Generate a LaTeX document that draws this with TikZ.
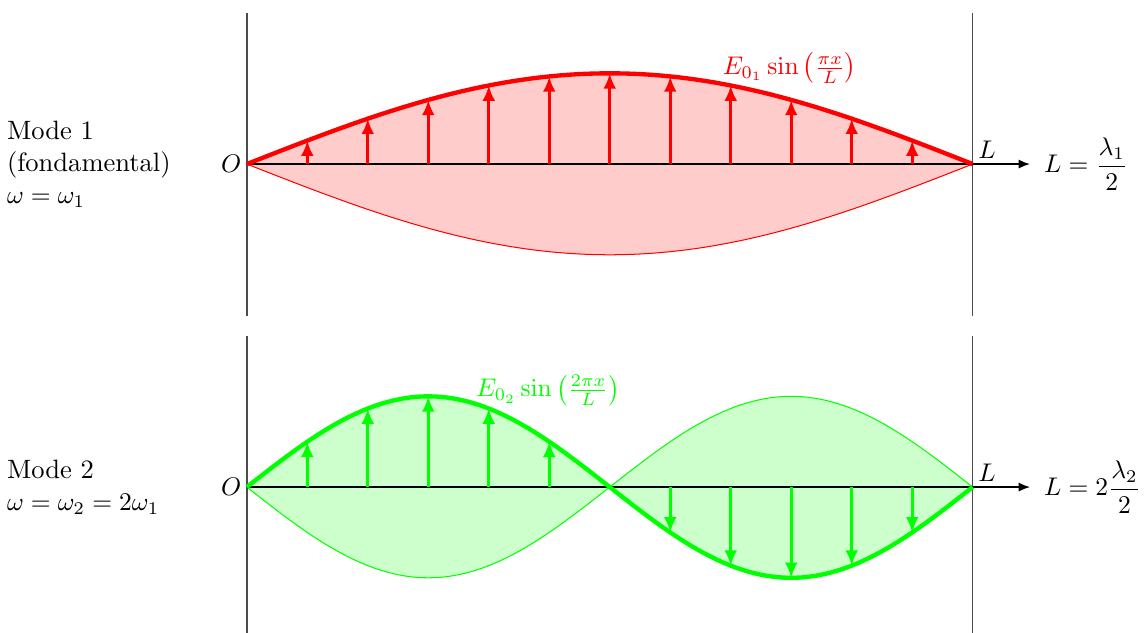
\documentclass[tikz,border=0pt]{standalone}
\usetikzlibrary{arrows.meta}
\begin{document}
\begin{tikzpicture}[
  font=\fontsize{10.4pt}{12.6pt}\selectfont,
  wall/.style={black!70, line width=0.6pt},
  axisline/.style={black, line width=0.6pt, -{Latex[length=4.5pt,width=3.6pt]}},
  vec/.style={line width=1.1pt, -{Latex[length=6pt,width=5pt]}},
  curvethick/.style={line width=1.7pt},
  curvethin/.style={line width=0.4pt}
]
\def\Lw{10}
\def\A{1.25}
\useasboundingbox (-3.40,2.26) rectangle (12.36,-6.46);

% ---------- Mode 1 ----------
\fill[red!20] (0,0) -- plot[domain=0:\Lw,samples=80] (\x,{\A*sin(180*\x/\Lw)})
  -- plot[domain=\Lw:0,samples=80] (\x,{-\A*sin(180*\x/\Lw)}) -- cycle;
\draw[red,curvethin] plot[domain=0:\Lw,samples=80] (\x,{-\A*sin(180*\x/\Lw)});
\draw[wall] (0,2.08) -- (0,-2.09);
\draw[wall] (\Lw,2.08) -- (\Lw,-2.09);
\coordinate (O1) at (0,0);
\coordinate (L1) at (\Lw,0);
\coordinate (E1) at (10.79,0);
\draw[axisline] (O1) -- (E1);
\foreach \k in {1,...,11}{
  \draw[red,vec] (\k*\Lw/12,0) -- (\k*\Lw/12,{\A*sin(15*\k)});
}
\draw[red,curvethick] plot[domain=0:\Lw,samples=80] (\x,{\A*sin(180*\x/\Lw)});
\node[anchor=east,inner sep=2pt] (o1) at (O1) {$O$};
\node[anchor=south west,inner sep=2pt] (l1) at (L1) {$L$};
\node[anchor=west] (eq1) at (10.86,0) {$L=\displaystyle\frac{\lambda_1}{2}$};
\node[red] (lab1) at (7.48,1.32) {$E_{0_1}\sin\left(\frac{\pi x}{L}\right)$};
\node[anchor=west,align=left,inner sep=0pt] (m1) at (-3.31,0) {Mode 1\\(fondamental)\\$\omega=\omega_1$};

% ---------- Mode 2 ----------
\begin{scope}[yshift=-4.45cm]
\fill[green!20] (0,0) -- plot[domain=0:\Lw,samples=120] (\x,{\A*sin(360*\x/\Lw)})
  -- plot[domain=\Lw:0,samples=120] (\x,{-\A*sin(360*\x/\Lw)}) -- cycle;
\draw[green,curvethin] plot[domain=0:\Lw,samples=120] (\x,{-\A*sin(360*\x/\Lw)});
\draw[wall] (0,2.08) -- (0,-2.1);
\draw[wall] (\Lw,2.08) -- (\Lw,-2.1);
\coordinate (O2) at (0,0);
\coordinate (L2) at (\Lw,0);
\coordinate (E2) at (10.79,0);
\draw[axisline] (O2) -- (E2);
\foreach \k in {1,2,3,4,5,7,8,9,10,11}{
  \draw[green,vec] (\k*\Lw/12,0) -- (\k*\Lw/12,{\A*sin(30*\k)});
}
\draw[green,curvethick] plot[domain=0:\Lw,samples=120] (\x,{\A*sin(360*\x/\Lw)});
\node[anchor=east,inner sep=2pt] (o2) at (O2) {$O$};
\node[anchor=south west,inner sep=2pt] (l2) at (L2) {$L$};
\node[anchor=west] (eq2) at (10.86,0) {$L=2\displaystyle\frac{\lambda_2}{2}$};
\node[green] (lab2) at (4.15,1.33) {$E_{0_2}\sin\left(\frac{2\pi x}{L}\right)$};
\node[anchor=west,align=left,inner sep=0pt] (m2) at (-3.31,0) {Mode 2\\$\omega=\omega_2=2\omega_1$};
\end{scope}
\end{tikzpicture}
\end{document}
